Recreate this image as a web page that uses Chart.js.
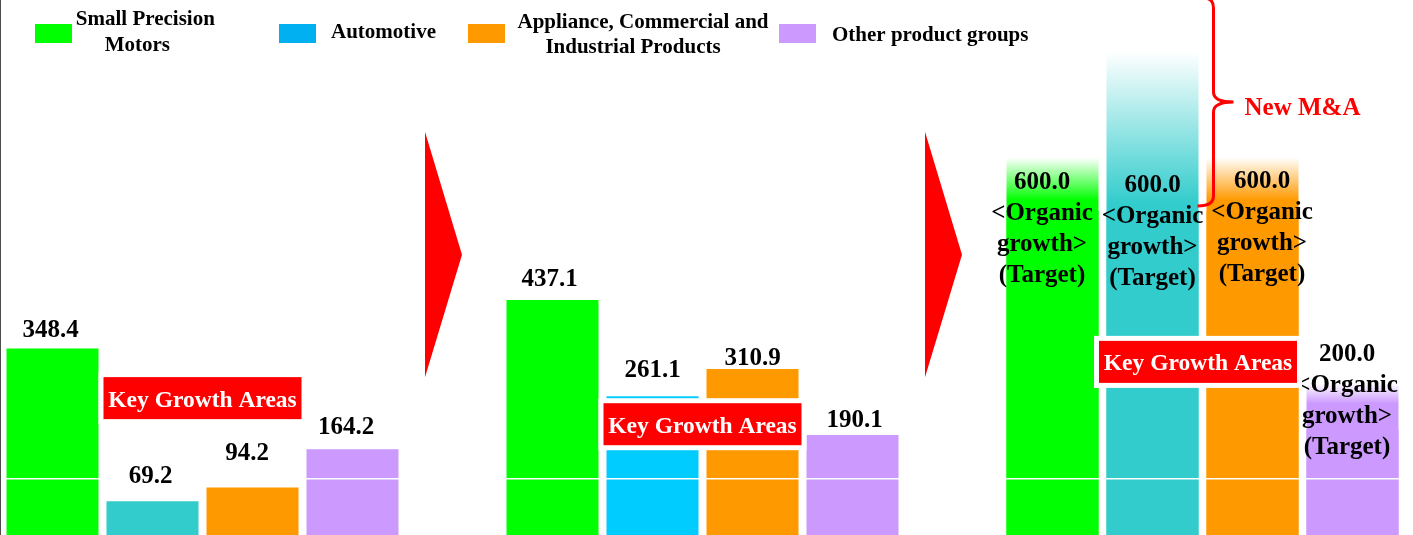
<!DOCTYPE html>
<html>
<head>
<meta charset="utf-8">
<script src="https://cdn.jsdelivr.net/npm/chart.js@4.4.1/dist/chart.umd.min.js"></script>
<style>
    html, body { margin: 0; padding: 0; background: #fff; overflow: hidden; }
    #wrap { width: 1413px; height: 535px; overflow: hidden; }
</style>
</head>
<body>
<div id="wrap"><canvas id="growthChart" width="1413" height="539"></canvas></div>
<script>
// ==================== DATA ====================

const segments = ['Small Precision Motors', 'Automotive', 'Appliance, Commercial and Industrial Products', 'Other product groups'];
const stage1 = [348.4, 69.2, 94.2, 164.2];
const stage2 = [437.1, 261.1, 310.9, 190.1];
const stage3 = [600.0, 600.0, 600.0, 200.0];
// faded part drawn above the organic targets (the automotive one is the New M&A part)
const stage3Fade = [98, 291, 98, 85];
const stage3Note = ['<Organic', 'growth>', '(Target)'];
const keyGrowthText = 'Key Growth Areas';
const maText = 'New M&A';

// ==================== STYLE ====================

const stageColors = [
    ['#00FF00', '#33CCCC', '#FF9900', '#CC99FF'],
    ['#00FF00', '#00CCFF', '#FF9900', '#CC99FF'],
    ['#00FF00', '#33CCCC', '#FF9900', '#CC99FF']
];
const legendColors = ['#00FF00', '#00B0F0', '#FF9900', '#CC99FF'];
const fadeSolid = [0.2, 0.05, 0.2, 0.56];
// label baseline lift above bar top, and small horizontal nudges
const labelLift = [11.5, 18, 28, 15, 14, 19, 4, 8, 22, 19, 23, 68.5];
const labelShift = [-2, -2, -5.5, -6.5, -3, 0, 0, 2, -10.5, 0, 9.5, -5.5];
const boxCenters = [257.7, 210, 324];
const boxShift = [0, 0, -4.5];
const SERIF = '"Liberation Serif", "Times New Roman", serif';

// construir slots: 4 barras, flecha, 4 barras, flecha, 4 barras
const slots = [...segments, '', ...segments, '', ...segments];
const values = [...stage1, null, ...stage2, null, ...stage3];
const fadeTops = [...Array(10).fill(null), ...stage3.map((v, k) => v + stage3Fade[k])];
const slotColors = [...stageColors[0], null, ...stageColors[1], null, ...stageColors[2]];
const barSlots = values.map((v, i) => v === null ? -1 : i).filter(i => i >= 0);
const arrowSlots = values.map((v, i) => v === null ? i : -1).filter(i => i >= 0);

function fadeColor(ctx) {
    const i = ctx.dataIndex;
    const base = slotColors[i] || '#fff';
    const chart = ctx.chart;
    if (!chart.chartArea || fadeTops[i] === null) return base;
    const y = chart.scales.y;
    const y0 = y.getPixelForValue(values[i]);
    const y1 = y.getPixelForValue(fadeTops[i]);
    const g = chart.ctx.createLinearGradient(0, y0, 0, y1);
    g.addColorStop(0, base);
    g.addColorStop(fadeSolid[i - 10], base);
    g.addColorStop(1, '#ffffff');
    return g;
}

// ==================== ANNOTATIONS ====================

const annotations = {
    id: 'annotations',
    afterDraw(chart) {
        const c = chart.ctx;
        const y = chart.scales.y;
        const bars = chart.getDatasetMeta(0).data;
        const area = chart.chartArea;
        c.save();

        // legend
        c.font = 'bold 21px ' + SERIF;
        c.textBaseline = 'alphabetic';
        const boxX = [35, 279, 468, 779];
        boxX.forEach((x, k) => {
            c.fillStyle = legendColors[k];
            c.fillRect(x, 24, 37, 19);
        });
        c.fillStyle = '#000';
        c.textAlign = 'center';
        c.fillText('Small Precision', 145.3, 25);
        c.fillText('Motors', 137.3, 51);
        c.fillText('Appliance, Commercial and', 643, 28);
        c.fillText('Industrial Products', 633, 53);
        c.textAlign = 'left';
        c.fillText(segments[1], 331, 38);
        c.fillText(segments[3], 832, 41);

        // arrows between stages
        c.fillStyle = '#FF0000';
        arrowSlots.forEach(i => {
            const cx = chart.scales.x.getPixelForValue(i);
            c.beginPath();
            c.moveTo(cx - 27.5, y.getPixelForValue(745));
            c.lineTo(cx + 9.5, y.getPixelForValue(520));
            c.lineTo(cx - 27.5, y.getPixelForValue(296));
            c.closePath();
            c.fill();
        });

        // value labels
        c.fillStyle = '#000';
        c.textAlign = 'center';
        c.font = 'bold 25px ' + SERIF;
        barSlots.forEach((slot, n) => {
            const bar = bars[slot];
            const x = bar.x + labelShift[n];
            const base = y.getPixelForValue(values[slot]) - labelLift[n];
            c.fillText(values[slot].toFixed(1), x, base);
            if (n >= 8) {
                stage3Note.forEach((t, j) => c.fillText(t, x, base + 31 * (j + 1)));
            }
        });

        // Key Growth Areas boxes (over the automotive + appliance bars)
        for (let s = 0; s < 3; s++) {
            const a = bars[barSlots[s * 4 + 1]];
            const b = bars[barSlots[s * 4 + 2]];
            const cx = (a.x + b.x) / 2 + boxShift[s];
            const cy = y.getPixelForValue(boxCenters[s]);
            c.fillStyle = '#fff';
            c.fillRect(cx - 104, cy - 26, 208, 52);
            c.fillStyle = '#FF0000';
            c.fillRect(cx - 99, cy - 21, 198, 42);
            c.fillStyle = '#fff';
            c.font = 'bold 23.5px ' + SERIF;
            c.fillText(keyGrowthText, cx, cy + 8.5);
        }

        // New M&A brace next to the automotive target bar
        const auto = bars[barSlots[9]];
        const x0 = auto.x + auto.width / 2 + 15;
        const bottom = y.getPixelForValue(stage3[1]) - 5;
        const top = area.top - 2;
        const mid = (top + bottom) / 2;
        const r = 10;
        c.strokeStyle = '#FF0000';
        c.lineWidth = 3;
        c.beginPath();
        c.moveTo(x0 - r, top);
        c.quadraticCurveTo(x0, top, x0, top + r);
        c.lineTo(x0, mid - r);
        c.quadraticCurveTo(x0, mid, x0 + 20, mid);
        c.quadraticCurveTo(x0, mid, x0, mid + r);
        c.lineTo(x0, bottom - r);
        c.quadraticCurveTo(x0, bottom, x0 - r - 6, bottom);
        c.stroke();
        c.fillStyle = '#FF0000';
        c.font = 'bold 25px ' + SERIF;
        c.textAlign = 'left';
        c.fillText(maText, x0 + 31, mid + 13);

        c.restore();
    }
};

// ==================== CHART ====================

new Chart(document.getElementById('growthChart'), {
    type: 'bar',
    data: {
        labels: slots,
        datasets: [{
            label: 'Value',
            data: values,
            backgroundColor: slotColors,
            borderWidth: 0,
            grouped: false,
            order: 0,
            barPercentage: 0.92,
            categoryPercentage: 1
        }, {
            label: 'Fade',
            data: fadeTops,
            backgroundColor: fadeColor,
            borderWidth: 0,
            grouped: false,
            order: 1,
            barPercentage: 0.92,
            categoryPercentage: 1
        }]
    },
    options: {
        responsive: false,
        animation: false,
        devicePixelRatio: 1,
        layout: { padding: { left: 2.5, right: 10.5, top: 0, bottom: 0 } },
        plugins: { legend: { display: false }, tooltip: { enabled: false } },
        scales: {
            x: { display: false },
            y: {
                min: 0,
                max: 986,
                afterBuildTicks: axis => { axis.ticks = [{ value: 111 }]; },
                ticks: { display: false },
                grid: { color: '#ffffff', lineWidth: 1.5, drawTicks: false, z: 1 },
                border: { display: true, color: '#111', width: 1.5 }
            }
        }
    },
    plugins: [annotations]
});
</script>
</body>
</html>
